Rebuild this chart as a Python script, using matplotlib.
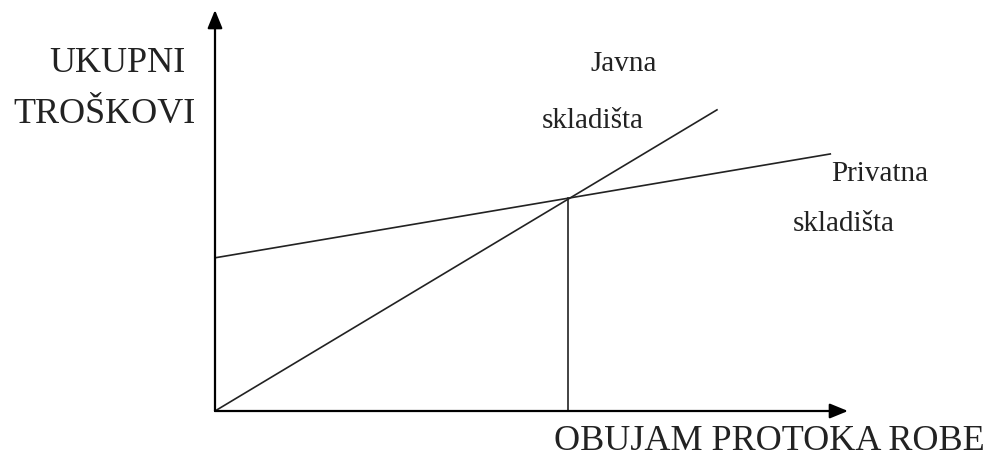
import matplotlib
matplotlib.use("Agg")
import matplotlib.pyplot as plt

# volumen protoka (x) i ukupni troskovi (y), procitano sa slike
javna_x = [0, 7.93]
javna_y = [0, 7.51]
privatna_x = [0, 9.72]
privatna_y = [3.82, 6.41]
tocka_x = 5.58   # tocka indiferencije
tocka_y = 5.31

plt.rcParams['font.family'] = ['Liberation Serif', 'DejaVu Serif']

fig = plt.figure(figsize=(9.9, 4.58), dpi=100)
ax = fig.add_axes([215 / 990, 47 / 458, 633 / 990, 401 / 458])
ax.set_xlim(0, 10)
ax.set_ylim(0, 10)
ax.axis('off')

# osi sa strelicama
arrow = dict(arrowstyle='-|>,head_length=1.1,head_width=0.45', color='black', lw=1.6,
             shrinkA=0, shrinkB=0)
ax.annotate('', xy=(10, 0), xytext=(0, 0), arrowprops=arrow, annotation_clip=False)
ax.annotate('', xy=(0, 10), xytext=(0, 0), arrowprops=arrow, annotation_clip=False)

ax.plot(javna_x, javna_y, color='#222222', lw=1.2, clip_on=False)
ax.plot(privatna_x, privatna_y, color='#222222', lw=1.2, clip_on=False)
ax.plot([tocka_x, tocka_x], [0, tocka_y], color='#222222', lw=1.2)

fs_big = 26
fs_small = 21
fig.text(0.119, 0.862, 'UKUPNI', fontsize=fs_big, ha='center', va='center', color='#222222')
fig.text(0.106, 0.749, 'TROŠKOVI', fontsize=fs_big, ha='center', va='center', color='#222222')
fig.text(0.630, 0.860, 'Javna', fontsize=fs_small, ha='center', va='center', color='#222222')
fig.text(0.599, 0.736, 'skladišta', fontsize=fs_small, ha='center', va='center', color='#222222')
fig.text(0.889, 0.620, 'Privatna', fontsize=fs_small, ha='center', va='center', color='#222222')
fig.text(0.852, 0.511, 'skladišta', fontsize=fs_small, ha='center', va='center', color='#222222')
fig.text(0.995, 0.037, 'OBUJAM PROTOKA ROBE', fontsize=fs_big, ha='right', va='center', color='#222222')

fig.savefig('out.png', dpi=100)
